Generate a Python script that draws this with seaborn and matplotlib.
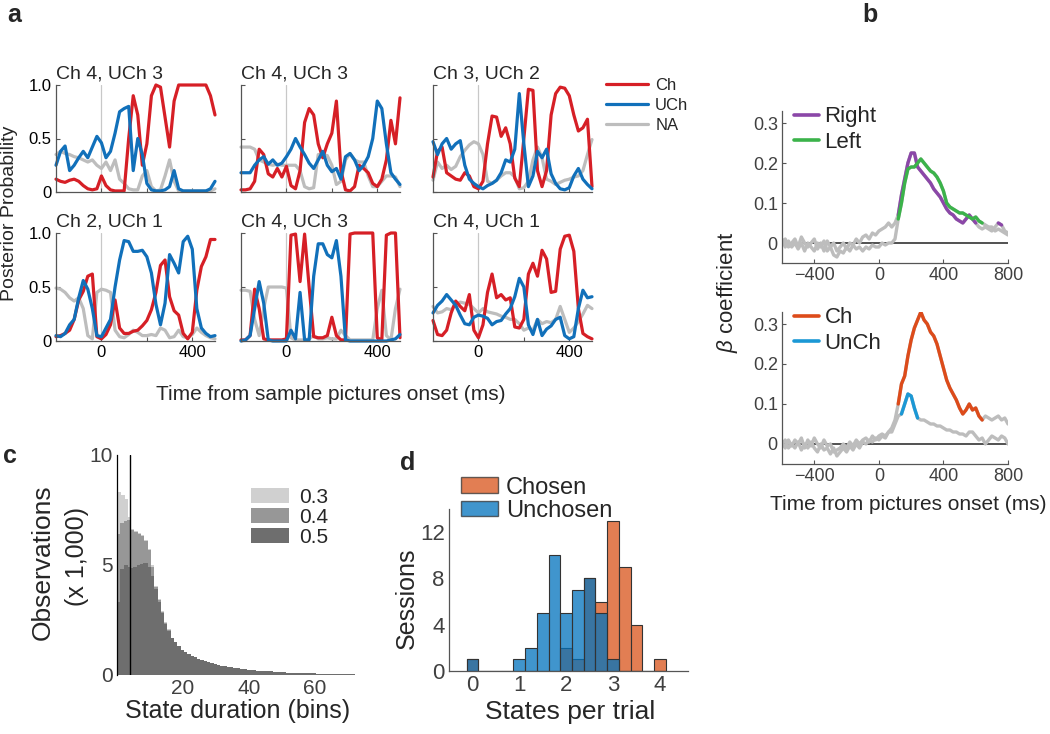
import numpy as np
import pandas as pd
import matplotlib
matplotlib.use('Agg')
import matplotlib.pyplot as plt
import seaborn as sns
from matplotlib.lines import Line2D
from matplotlib.patches import Patch

sns.set_style('ticks')
plt.rcParams['font.family'] = ['Liberation Sans', 'DejaVu Sans']
plt.rcParams['mathtext.fontset'] = 'custom'
plt.rcParams['mathtext.rm'] = 'Liberation Sans'
plt.rcParams['mathtext.it'] = 'Liberation Sans:italic'

# ---------------- panel a: posterior probability (20 ms steps, -200..500 ms)
t_post = np.arange(-200, 501, 20)
titles_a = ['Ch 4, UCh 3', 'Ch 4, UCh 3', 'Ch 3, UCh 2',
            'Ch 2, UCh 1', 'Ch 4, UCh 3', 'Ch 4, UCh 1']

ch_p1 = [0.12, 0.10, 0.09, 0.11, 0.12, 0.10, 0.06, 0.03, 0.02, 0.03,
         0.15, 0.06, 0.02, 0.01, 0.01, 0.01, 0.50, 0.90, 0.72, 0.25,
         0.45, 0.90, 1.00, 0.98, 0.70, 0.42, 0.85, 1.00, 1.00, 1.00,
         1.00, 1.00, 1.00, 1.00, 0.90, 0.72]
uch_p1 = [0.25, 0.38, 0.43, 0.20, 0.25, 0.32, 0.38, 0.32, 0.42, 0.52,
          0.46, 0.32, 0.38, 0.55, 0.75, 0.78, 0.80, 0.20, 0.50, 0.35,
          0.08, 0.02, 0.01, 0.01, 0.02, 0.05, 0.20, 0.03, 0.01, 0.01,
          0.01, 0.01, 0.01, 0.01, 0.03, 0.10]
na_p1 = [0.35, 0.38, 0.36, 0.35, 0.33, 0.32, 0.30, 0.28, 0.30, 0.25,
         0.22, 0.28, 0.20, 0.30, 0.12, 0.08, 0.03, 0.02, 0.02, 0.15,
         0.20, 0.05, 0.01, 0.02, 0.15, 0.30, 0.10, 0.01, 0.01, 0.01,
         0.01, 0.01, 0.01, 0.01, 0.01, 0.03]

ch_p2 = [0.02, 0.02, 0.03, 0.10, 0.40, 0.35, 0.17, 0.14, 0.22, 0.14,
         0.24, 0.06, 0.03, 0.20, 0.65, 0.78, 0.72, 0.45, 0.32, 0.45,
         0.55, 0.85, 0.20, 0.02, 0.01, 0.05, 0.25, 0.22, 0.18, 0.08,
         0.05, 0.12, 0.30, 0.67, 0.45, 0.88]
uch_p2 = [0.18, 0.18, 0.18, 0.25, 0.30, 0.33, 0.26, 0.30, 0.25, 0.27,
          0.33, 0.40, 0.50, 0.42, 0.35, 0.27, 0.22, 0.30, 0.38, 0.25,
          0.19, 0.22, 0.12, 0.33, 0.36, 0.30, 0.20, 0.25, 0.33, 0.50,
          0.85, 0.78, 0.45, 0.18, 0.12, 0.07]
na_p2 = [0.42, 0.42, 0.42, 0.40, 0.30, 0.28, 0.26, 0.25, 0.26, 0.25,
         0.25, 0.25, 0.25, 0.20, 0.05, 0.03, 0.04, 0.35, 0.35, 0.34,
         0.25, 0.07, 0.10, 0.30, 0.36, 0.30, 0.28, 0.28, 0.15, 0.05,
         0.05, 0.10, 0.15, 0.15, 0.14, 0.05]

ch_p3 = [0.14, 0.38, 0.42, 0.18, 0.15, 0.12, 0.11, 0.18, 0.15, 0.05,
         0.03, 0.10, 0.45, 0.71, 0.70, 0.52, 0.60, 0.45, 0.13, 0.05,
         0.50, 0.96, 0.95, 0.20, 0.05, 0.20, 0.72, 0.92, 0.98, 0.97,
         0.90, 0.72, 0.57, 0.60, 0.68, 0.05]
uch_p3 = [0.47, 0.35, 0.45, 0.50, 0.40, 0.45, 0.48, 0.25, 0.12, 0.08,
          0.05, 0.03, 0.06, 0.08, 0.11, 0.18, 0.30, 0.28, 0.40, 0.92,
          0.45, 0.05, 0.15, 0.38, 0.32, 0.40, 0.17, 0.08, 0.03, 0.02,
          0.04, 0.15, 0.22, 0.12, 0.07, 0.03]
na_p3 = [0.11, 0.28, 0.22, 0.25, 0.21, 0.24, 0.33, 0.39, 0.44, 0.47,
         0.45, 0.35, 0.10, 0.08, 0.11, 0.15, 0.18, 0.18, 0.14, 0.03,
         0.04, 0.10, 0.30, 0.42, 0.32, 0.12, 0.10, 0.07, 0.09, 0.11,
         0.12, 0.14, 0.15, 0.20, 0.35, 0.49]

ch_p4 = [0.04, 0.05, 0.07, 0.10, 0.20, 0.38, 0.46, 0.60, 0.62, 0.04,
         0.02, 0.06, 0.15, 0.38, 0.12, 0.07, 0.07, 0.09, 0.10, 0.14,
         0.19, 0.29, 0.45, 0.70, 0.75, 0.41, 0.28, 0.24, 0.07, 0.02,
         0.08, 0.47, 0.69, 0.78, 0.94, 0.94]
uch_p4 = [0.05, 0.04, 0.07, 0.15, 0.20, 0.40, 0.56, 0.48, 0.30, 0.05,
          0.04, 0.12, 0.20, 0.50, 0.75, 0.93, 0.92, 0.83, 0.83, 0.84,
          0.78, 0.63, 0.34, 0.15, 0.35, 0.80, 0.72, 0.63, 0.92, 0.97,
          0.85, 0.30, 0.12, 0.07, 0.04, 0.05]
na_p4 = [0.49, 0.48, 0.45, 0.40, 0.37, 0.40, 0.30, 0.05, 0.02, 0.45,
         0.48, 0.47, 0.45, 0.10, 0.04, 0.03, 0.06, 0.10, 0.08, 0.05,
         0.05, 0.06, 0.05, 0.12, 0.10, 0.03, 0.04, 0.10, 0.04, 0.03,
         0.06, 0.12, 0.08, 0.05, 0.03, 0.02]

ch_p5 = [0.01, 0.01, 0.05, 0.48, 0.30, 0.02, 0.01, 0.01, 0.01, 0.01,
         0.02, 0.98, 0.99, 0.55, 0.99, 0.50, 0.04, 0.03, 0.03, 0.05,
         0.22, 0.05, 0.01, 0.01, 0.99, 1.00, 1.00, 1.00, 1.00, 1.00,
         0.03, 0.01, 0.98, 1.00, 1.00, 0.03]
uch_p5 = [0.00, 0.01, 0.05, 0.30, 0.55, 0.35, 0.01, 0.00, 0.00, 0.00,
          0.00, 0.10, 0.02, 0.45, 0.01, 0.01, 0.60, 0.90, 0.90, 0.80,
          0.77, 0.93, 0.60, 0.01, 0.00, 0.00, 0.00, 0.00, 0.00, 0.00,
          0.00, 0.00, 0.00, 0.01, 0.02, 0.06]
na_p5 = [0.47, 0.47, 0.46, 0.20, 0.05, 0.30, 0.50, 0.50, 0.50, 0.50,
         0.49, 0.03, 0.01, 0.01, 0.01, 0.02, 0.05, 0.02, 0.02, 0.03,
         0.02, 0.02, 0.10, 0.05, 0.01, 0.01, 0.01, 0.01, 0.01, 0.01,
         0.30, 0.47, 0.05, 0.01, 0.30, 0.48]

ch_p6 = [0.19, 0.06, 0.05, 0.10, 0.26, 0.37, 0.32, 0.28, 0.43, 0.10,
         0.03, 0.15, 0.45, 0.62, 0.40, 0.43, 0.38, 0.40, 0.13, 0.12,
         0.20, 0.62, 0.72, 0.60, 0.84, 0.76, 0.45, 0.46, 0.85, 0.97,
         0.98, 0.83, 0.30, 0.07, 0.04, 0.02]
uch_p6 = [0.26, 0.33, 0.37, 0.43, 0.38, 0.33, 0.24, 0.16, 0.15, 0.22,
          0.24, 0.23, 0.21, 0.15, 0.18, 0.19, 0.25, 0.30, 0.41, 0.58,
          0.50, 0.15, 0.06, 0.20, 0.05, 0.11, 0.14, 0.20, 0.22, 0.05,
          0.02, 0.04, 0.30, 0.47, 0.40, 0.41]
na_p6 = [0.32, 0.26, 0.27, 0.30, 0.29, 0.34, 0.36, 0.35, 0.34, 0.30,
         0.26, 0.30, 0.27, 0.26, 0.25, 0.23, 0.22, 0.20, 0.20, 0.16,
         0.10, 0.12, 0.10, 0.20, 0.16, 0.18, 0.17, 0.20, 0.32, 0.20,
         0.08, 0.12, 0.18, 0.25, 0.33, 0.30]

# ---------------- panel b: beta coefficients (20 ms steps, -600..800 ms)
t_beta = np.arange(-600, 801, 20)
right_beta = [0.00, 0.01, -0.01, 0.00, 0.01, -0.01, 0.015, 0.00, -0.01, 0.00,
              0.01, -0.015, 0.00, -0.02, 0.005, -0.01, 0.00, -0.02, -0.01, 0.00,
              -0.015, 0.00, -0.005, 0.01, 0.00, 0.015, 0.02, 0.01, 0.025, 0.02,
              0.03, 0.035, 0.04, 0.05, 0.04, 0.05, 0.07, 0.12, 0.16, 0.20,
              0.225, 0.225, 0.19, 0.18, 0.17, 0.16, 0.15, 0.135, 0.125, 0.115,
              0.10, 0.085, 0.075, 0.07, 0.06, 0.055, 0.05, 0.06, 0.07, 0.06,
              0.05, 0.04, 0.035, 0.04, 0.035, 0.03, 0.04, 0.05, 0.045, 0.03, 0.025]
left_beta = [0.01, -0.01, 0.005, -0.01, 0.00, -0.015, 0.00, -0.02, 0.00, -0.01,
             -0.02, 0.00, -0.01, 0.005, -0.02, -0.01, -0.03, -0.035, -0.02, -0.025,
             -0.01, -0.02, -0.005, -0.015, -0.01, -0.02, -0.01, -0.015, -0.005, -0.01,
             -0.01, 0.00, -0.005, 0.00, 0.00, 0.01, 0.06, 0.10, 0.15, 0.185,
             0.19, 0.19, 0.20, 0.21, 0.20, 0.19, 0.18, 0.175, 0.165, 0.15,
             0.13, 0.10, 0.09, 0.085, 0.08, 0.075, 0.075, 0.07, 0.065, 0.06,
             0.065, 0.055, 0.05, 0.045, 0.04, 0.04, 0.03, 0.035, 0.03, 0.025, 0.02]
ch_beta = [0.005, -0.01, 0.01, -0.005, 0.01, 0.00, 0.015, -0.01, 0.01, -0.005,
           0.015, 0.00, -0.01, 0.01, -0.005, 0.00, -0.02, -0.015, -0.01, 0.00,
           -0.01, 0.005, -0.005, 0.01, 0.00, 0.01, 0.015, 0.005, 0.02, 0.01,
           0.02, 0.025, 0.02, 0.03, 0.04, 0.06, 0.10, 0.15, 0.17, 0.22,
           0.26, 0.29, 0.31, 0.33, 0.31, 0.30, 0.28, 0.27, 0.25, 0.22,
           0.19, 0.16, 0.14, 0.125, 0.11, 0.09, 0.075, 0.085, 0.10, 0.085,
           0.09, 0.07, 0.06, 0.07, 0.065, 0.06, 0.065, 0.07, 0.06, 0.065, 0.05]
unch_beta = [0.00, 0.01, -0.01, 0.00, -0.01, 0.005, -0.015, 0.00, -0.01, 0.005,
             -0.01, -0.02, 0.00, -0.015, -0.01, -0.025, -0.01, -0.03, -0.02, -0.01,
             -0.02, -0.005, -0.015, 0.00, -0.01, 0.005, 0.00, 0.01, 0.005, 0.015,
             0.01, 0.02, 0.015, 0.03, 0.03, 0.05, 0.07, 0.075, 0.10, 0.125,
             0.12, 0.09, 0.065, 0.06, 0.06, 0.055, 0.05, 0.05, 0.045, 0.045,
             0.04, 0.035, 0.035, 0.03, 0.03, 0.025, 0.025, 0.02, 0.03, 0.03,
             0.02, 0.01, 0.015, 0.00, 0.01, 0.02, 0.015, 0.01, 0.02, 0.015, 0.00]
right_sig = [(120, 600), (740, 760)]
left_sig = [(120, 640)]
ch_sig = [(120, 640)]
unch_sig = [(140, 240)]

# ---------------- panel c: state durations (x 1,000)
dur_centers = np.arange(0.5, 75)
obs_05 = [3.3, 4.8, 5.0, 4.9, 4.85, 4.9, 5.0, 5.05, 5.1, 4.9,
          4.5, 3.9, 3.3, 2.8, 2.3, 2.0, 1.7, 1.5, 1.3, 1.15,
          1.05, 0.95, 0.87, 0.8, 0.74, 0.68, 0.63, 0.58, 0.54, 0.5,
          0.46, 0.43, 0.4, 0.37, 0.35, 0.32, 0.3, 0.28, 0.26, 0.25,
          0.23, 0.21, 0.2, 0.19, 0.18, 0.17, 0.16, 0.15, 0.14, 0.13,
          0.12, 0.11, 0.1, 0.1, 0.09, 0.09, 0.08, 0.08, 0.07, 0.07,
          0.06, 0.06, 0.05, 0.05, 0.05, 0.04, 0.04, 0.04, 0.03, 0.03,
          0.03, 0.03, 0.02, 0.02, 0.02]
obs_04 = [6.4, 6.9, 7.0, 7.05, 6.6, 6.5, 6.4, 6.3, 6.1, 5.7,
          4.9, 4.0, 3.4, 2.85, 2.35, 2.05]
obs_03 = [8.3, 8.2, 8.0, 7.2, 6.65, 6.55, 6.45, 6.35, 6.15, 5.75,
          5.0, 4.05, 3.45, 2.9, 2.4, 2.1]
dur_marker = 4

# ---------------- panel d: states per trial
chosen_states = [0, 2.0, 2.25, 2.5, 2.75, 3.0, 3.25, 3.5, 4.0]
chosen_sessions = [1, 2, 1, 8, 6, 13, 9, 4, 1]
unchosen_states = [0, 1.0, 1.25, 1.5, 1.75, 2.0, 2.25, 2.5, 2.75, 3.0]
unchosen_sessions = [1, 1, 2, 5, 10, 5, 7, 8, 5, 1]

# ---------------- colours
RED, BLUE, GRAY = '#D61F26', '#1170BA', '#BDBDBD'
PURPLE, GREEN = '#8B47A8', '#3BB34A'
ORANGE_B, BLUE_B = '#DD4B1A', '#1B98D5'
C03, C04, C05 = '#D0D0D0', '#979797', '#6E6E6E'
ORANGE_D, BLUE_D = '#D95319', '#0072BD'
TXT = '#404040'

W, H = 1050, 734
fig = plt.figure(figsize=(W / 100, H / 100), dpi=100)


def box(x0, y0, x1, y1):
    return [x0 / W, 1 - y1 / H, (x1 - x0) / W, (y1 - y0) / H]


def style(ax, size, color='black'):
    sns.despine(ax=ax)
    for s in ['left', 'bottom']:
        ax.spines[s].set_color('#555555')
        ax.spines[s].set_linewidth(0.9)
    ax.tick_params(direction='in', length=3, width=0.8, color='#555555',
                   labelsize=size, labelcolor=color, pad=3)
    ax.set_xlabel('')
    ax.set_ylabel('')


# ---- panel a
panels_a = [(ch_p1, uch_p1, na_p1), (ch_p2, uch_p2, na_p2), (ch_p3, uch_p3, na_p3),
            (ch_p4, uch_p4, na_p4), (ch_p5, uch_p5, na_p5), (ch_p6, uch_p6, na_p6)]
cols = [(56, 215), (241, 400), (433, 592)]
rows = [(85, 192), (233, 341)]
for i, (ch, uch, na) in enumerate(panels_a):
    r, c = divmod(i, 3)
    ax = fig.add_axes(box(cols[c][0], rows[r][0], cols[c][1], rows[r][1]))
    ax.axvline(0, color='#C8C8C8', lw=0.9, zorder=0)
    for vals, col in [(na, GRAY), (ch, RED), (uch, BLUE)]:
        sns.lineplot(x=t_post, y=vals, ax=ax, color=col, lw=2.3, clip_on=False)
    ax.set_xlim(-200, 500)
    ax.set_ylim(0, 1)
    ax.set_xticks([0, 200, 400])
    ax.set_yticks([0, 0.5, 1])
    style(ax, 12)
    ax.set_xticklabels(['0', '', '400'] if r == 1 else [])
    ax.set_yticklabels(['0', '0.5', '1.0'] if c == 0 else [])
    ax.set_title(titles_a[i], loc='left', fontsize=14, pad=5)

fig.legend([Line2D([], [], color=c, lw=2.3) for c in (RED, BLUE, GRAY)],
           ['Ch', 'UCh', 'NA'], loc='upper left',
           bbox_to_anchor=(606 / W, 1 - 78 / H), frameon=False, fontsize=12,
           handlelength=2.5, handletextpad=0.45, labelspacing=0.3,
           borderpad=0, borderaxespad=0)
fig.text(10 / W, 1 - 213 / H, 'Posterior Probability', rotation=90, ha='center',
         va='center', fontsize=14)
fig.text(331 / W, 1 - 395 / H, 'Time from sample pictures onset (ms)',
         ha='center', va='center', fontsize=15)

# ---- panel b
b_sets = [
    (box(782, 111, 1008, 263), [(right_beta, right_sig, PURPLE, 'Right'),
                                (left_beta, left_sig, GREEN, 'Left')]),
    (box(782, 312, 1008, 464), [(ch_beta, ch_sig, ORANGE_B, 'Ch'),
                                (unch_beta, unch_sig, BLUE_B, 'UnCh')]),
]
for rect, series in b_sets:
    ax = fig.add_axes(rect)
    ax.hlines(0, -600, 800, color='#222222', lw=1.1, zorder=1)
    for vals, _, _, _ in series:
        sns.lineplot(x=t_beta, y=vals, ax=ax, color=GRAY, lw=2.4, zorder=2)
    for vals, sig, col, _ in series:
        vals_arr = np.asarray(vals)
        for a, b in sig:
            m = (t_beta >= a) & (t_beta <= b)
            sns.lineplot(x=t_beta[m], y=vals_arr[m], ax=ax, color=col, lw=2.4, zorder=3)
    ax.set_xlim(-600, 800)
    ax.set_ylim(-0.05, 0.33)
    ax.set_xticks([-400, 0, 400, 800])
    ax.set_xticklabels(['\u2212400', '0', '400', '800'])
    ax.set_yticks([0, 0.1, 0.2, 0.3])
    ax.set_yticklabels(['0', '0.1', '0.2', '0.3'])
    style(ax, 13, TXT)
    ax.legend([Line2D([], [], color=s[2], lw=2.6) for s in series],
              [s[3] for s in series], loc='upper left',
              bbox_to_anchor=(0.055, 1.03), frameon=False, fontsize=16,
              handlelength=1.1, handletextpad=0.25, labelspacing=0.2,
              borderpad=0, borderaxespad=0)
fig.text(728 / W, 1 - 292 / H, r'$\beta$ coefficient', rotation=90,
         ha='center', va='center', fontsize=16)
fig.text(908 / W, 1 - 505 / H, 'Time from pictures onset (ms)',
         ha='center', va='center', fontsize=15)

# ---- panel c
ax = fig.add_axes(box(117, 455, 361, 675))
c_bins = list(range(0, 76))
for vals, col in [(obs_03, C03), (obs_04, C04), (obs_05, C05)]:
    df_c = pd.DataFrame({'duration': dur_centers[:len(vals)], 'obs': vals})
    sns.histplot(data=df_c, x='duration', weights='obs', bins=c_bins,
                 element='bars', color=col, alpha=1, edgecolor=col,
                 linewidth=0.6, antialiased=False, ax=ax)
ax.axvline(dur_marker, color='black', lw=1.0)
ax.set_xlim(0, 74)
ax.set_ylim(0, 10)
ax.set_xticks([20, 40, 60])
ax.set_yticks([0, 5, 10])
style(ax, 15, TXT)
ax.spines['left'].set_color('black')
ax.spines['bottom'].set_visible(False)
ax.tick_params(length=0)
ax.legend([Patch(facecolor=c, edgecolor='none') for c in (C03, C04, C05)],
          ['0.3', '0.4', '0.5'], loc='upper left', bbox_to_anchor=(0.55, 0.85),
          frameon=False, fontsize=15, handlelength=1.8, handleheight=0.75,
          handletextpad=0.5, labelspacing=0.05, borderpad=0, borderaxespad=0)
fig.text(43 / W, 1 - 562 / H, 'Observations', rotation=90, ha='center',
         va='center', fontsize=19)
fig.text(77 / W, 1 - 556 / H, '(x 1,000)', rotation=90, ha='center',
         va='center', fontsize=18)
fig.text(238 / W, 1 - 711 / H, 'State duration (bins)', ha='center',
         va='center', fontsize=18)

# ---- panel d
ax = fig.add_axes(box(449, 509, 688, 671))
d_edges = [-0.125 + 0.25 * k for k in range(18)]
df_ch = pd.DataFrame({'states': chosen_states, 'sessions': chosen_sessions})
df_un = pd.DataFrame({'states': unchosen_states, 'sessions': unchosen_sessions})
sns.histplot(data=df_ch, x='states', weights='sessions', bins=d_edges, color=ORANGE_D,
             alpha=0.75, edgecolor='#333333', linewidth=0.8, ax=ax)
sns.histplot(data=df_un, x='states', weights='sessions', bins=d_edges, color=BLUE_D,
             alpha=0.75, edgecolor='#333333', linewidth=0.8, ax=ax)
ax.set_xlim(-0.5, 4.6)
ax.set_ylim(0, 14)
ax.set_xticks([0, 1, 2, 3, 4])
ax.set_yticks([0, 4, 8, 12])
style(ax, 16, TXT)
ax.tick_params(length=0)
ax.legend([Patch(facecolor=ORANGE_D, alpha=0.75, edgecolor='#333333'),
           Patch(facecolor=BLUE_D, alpha=0.75, edgecolor='#333333')],
          ['Chosen', 'Unchosen'], loc='upper left', bbox_to_anchor=(0.05, 1.2),
          frameon=False, fontsize=17, handlelength=1.55, handleheight=0.65,
          handletextpad=0.35, labelspacing=0.05, borderpad=0, borderaxespad=0)
fig.text(407 / W, 1 - 598 / H, 'Sessions', rotation=90, ha='center',
         va='center', fontsize=18)
fig.text(570 / W, 1 - 712 / H, 'States per trial', ha='center', va='center',
         fontsize=19)

# ---- panel letters
for letter, x, y in [('a', 7, 22), ('b', 862, 22), ('c', 3, 463), ('d', 400, 470)]:
    fig.text(x / W, 1 - y / H, letter, fontsize=18, fontweight='bold',
             va='baseline', ha='left')

fig.savefig('out.png', dpi=100)
